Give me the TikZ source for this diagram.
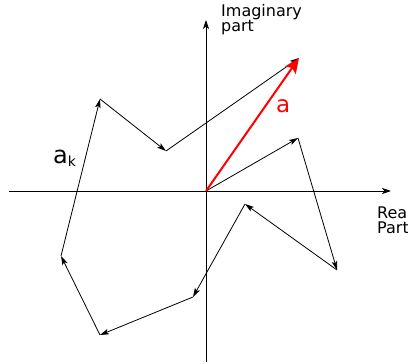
\documentclass[tikz,border=0pt]{standalone}
\usepackage{fontspec}
\setmainfont{DejaVu Sans}
\usetikzlibrary{arrows.meta}
\newcommand{\lblfont}{\fontsize{16}{15}\selectfont}
\begin{document}
\begin{tikzpicture}[x=1pt,y=-1pt,
  vec/.style={line width=0.8pt,-{Stealth[length=9pt,width=5.5pt,inset=2pt]}},
  axis/.style={line width=0.8pt,-{Stealth[length=9pt,width=6pt,inset=2.5pt]}},
  redvec/.style={red,line width=2pt,-{Stealth[length=15pt,width=13pt,inset=3pt]}},
  lbl/.style={inner sep=0pt,anchor=base west}]
\useasboundingbox (0,0) rectangle (408,364);
\clip (0,0) rectangle (408,364);
\coordinate (xl) at (9,191);
\coordinate (xr) at (391,191);
\coordinate (yb) at (206,362);
\coordinate (yt) at (206,20);
\coordinate (O) at (206,191);
\coordinate (p1) at (298,138);
\coordinate (p2) at (337,270);
\coordinate (p3) at (245,204);
\coordinate (p4) at (193,297);
\coordinate (p5) at (100,335);
\coordinate (p6) at (61,256);
\coordinate (p7) at (100,99);
\coordinate (p8) at (166,151);
\coordinate (p9) at (299,58);
\draw[axis] (xl) -- (xr);
\draw[axis] (yb) -- (yt);
\draw[vec] (O) -- (p1);
\draw[vec] (p1) -- (p2);
\draw[vec] (p2) -- (p3);
\draw[vec] (p3) -- (p4);
\draw[vec] (p4) -- (p5);
\draw[vec] (p5) -- (p6);
\draw[vec] (p6) -- (p7);
\draw[vec] (p7) -- (p8);
\draw[vec] (p8) -- (p9);
\draw[redvec] (O) -- (p9);
\node[lbl] (im1) at (221,16.7) {\lblfont Imaginary};
\node[lbl] (im2) at (221,31.5) {\lblfont part};
\node[lbl] (re1) at (377,218) {\lblfont Real};
\node[lbl] (re2) at (377,233) {\lblfont Part};
\node[inner sep=0pt,anchor=base west,text=red,font=\fontsize{23}{23}\selectfont] (a) at (276,113) {a};
\node[inner sep=0pt,anchor=base west,font=\fontsize{24}{24}\selectfont] (ak) at (53,163) {a\textsubscript{\fontsize{14}{14}\selectfont k}};
\end{tikzpicture}
\end{document}
